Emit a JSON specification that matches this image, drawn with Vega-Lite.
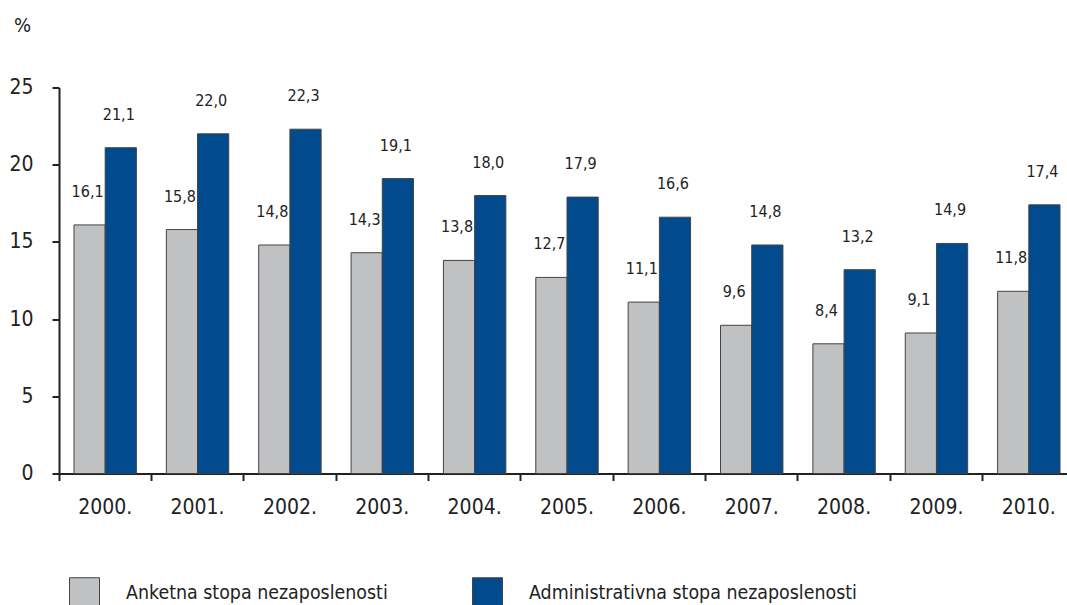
{
  "$schema": "https://vega.github.io/schema/vega-lite/v6.json",
  "autosize": "none",
  "padding": {"left": 59, "top": 87.5, "right": 0, "bottom": 132},
  "width": 1016,
  "height": 386,
  "background": "white",
  "config": {
    "locale": {"number": {"decimal": ",", "thousands": ".", "grouping": [3], "currency": ["", ""]}},
    "view": {"stroke": null},
    "font": "DejaVu Sans Condensed, Liberation Sans, sans-serif"
  },
  "data": {"values": [
    {"year": "2000.", "series": "Anketna stopa nezaposlenosti", "value": 16.1},
    {"year": "2000.", "series": "Administrativna stopa nezaposlenosti", "value": 21.1},
    {"year": "2001.", "series": "Anketna stopa nezaposlenosti", "value": 15.8},
    {"year": "2001.", "series": "Administrativna stopa nezaposlenosti", "value": 22.0},
    {"year": "2002.", "series": "Anketna stopa nezaposlenosti", "value": 14.8},
    {"year": "2002.", "series": "Administrativna stopa nezaposlenosti", "value": 22.3},
    {"year": "2003.", "series": "Anketna stopa nezaposlenosti", "value": 14.3},
    {"year": "2003.", "series": "Administrativna stopa nezaposlenosti", "value": 19.1},
    {"year": "2004.", "series": "Anketna stopa nezaposlenosti", "value": 13.8},
    {"year": "2004.", "series": "Administrativna stopa nezaposlenosti", "value": 18.0},
    {"year": "2005.", "series": "Anketna stopa nezaposlenosti", "value": 12.7},
    {"year": "2005.", "series": "Administrativna stopa nezaposlenosti", "value": 17.9},
    {"year": "2006.", "series": "Anketna stopa nezaposlenosti", "value": 11.1},
    {"year": "2006.", "series": "Administrativna stopa nezaposlenosti", "value": 16.6},
    {"year": "2007.", "series": "Anketna stopa nezaposlenosti", "value": 9.6},
    {"year": "2007.", "series": "Administrativna stopa nezaposlenosti", "value": 14.8},
    {"year": "2008.", "series": "Anketna stopa nezaposlenosti", "value": 8.4},
    {"year": "2008.", "series": "Administrativna stopa nezaposlenosti", "value": 13.2},
    {"year": "2009.", "series": "Anketna stopa nezaposlenosti", "value": 9.1},
    {"year": "2009.", "series": "Administrativna stopa nezaposlenosti", "value": 14.9},
    {"year": "2010.", "series": "Anketna stopa nezaposlenosti", "value": 11.8},
    {"year": "2010.", "series": "Administrativna stopa nezaposlenosti", "value": 17.4}
  ]},
  "encoding": {
    "x": {
      "field": "year", "type": "nominal", "sort": null,
      "scale": {"paddingInner": 0, "paddingOuter": 0},
      "axis": {
        "title": null, "labelAngle": 0, "bandPosition": 0,
        "domainColor": "#222", "domainWidth": 2,
        "tickColor": "#222", "tickWidth": 2, "tickSize": 7,
        "labelFontSize": 21, "labelColor": "#222", "labelPadding": 16,
        "labelBaseline": "top"
      }
    },
    "xOffset": {
      "field": "series", "type": "nominal",
      "sort": ["Anketna stopa nezaposlenosti", "Administrativna stopa nezaposlenosti"],
      "scale": {"paddingInner": 0, "paddingOuter": 0.48}
    },
    "y": {
      "field": "value", "type": "quantitative",
      "scale": {"domain": [0, 25], "nice": false},
      "axis": {
        "values": [0, 5, 10, 15, 20, 25], "grid": false,
        "title": "%", "titleAngle": 0, "titleX": -37, "titleY": -62, "titleAlign": "center",
        "titleBaseline": "middle", "titleFontSize": 20, "titleFontWeight": "normal", "titleColor": "#222",
        "domainColor": "#222", "domainWidth": 2,
        "tickColor": "#222", "tickWidth": 2, "tickSize": 7,
        "labelFontSize": 21, "labelColor": "#222", "labelPadding": 19
      }
    }
  },
  "layer": [
    {
      "mark": {"type": "bar", "stroke": "#444", "strokeWidth": 1},
      "encoding": {
        "color": {
          "field": "series", "type": "nominal",
          "sort": ["Anketna stopa nezaposlenosti", "Administrativna stopa nezaposlenosti"],
          "scale": {"range": ["#c0c1c3", "#004a8d"]},
          "legend": {
            "title": null, "orient": "none", "direction": "horizontal",
            "legendX": 10, "legendY": 489.5,
            "symbolType": "square", "symbolSize": 900, "symbolStrokeColor": "#444", "symbolStrokeWidth": 1,
            "symbolOpacity": 1,
            "labelFontSize": 19.4, "labelColor": "#222", "labelOffset": 26, "labelLimit": 500,
            "columnPadding": 82, "padding": 0
          }
        }
      }
    },
    {
      "mark": {"type": "text", "dy": -28, "dx": -2, "baseline": "alphabetic", "fontSize": 16, "color": "#222"},
      "encoding": {
        "text": {"field": "value", "type": "quantitative", "format": ".1f"}
      }
    }
  ]
}
